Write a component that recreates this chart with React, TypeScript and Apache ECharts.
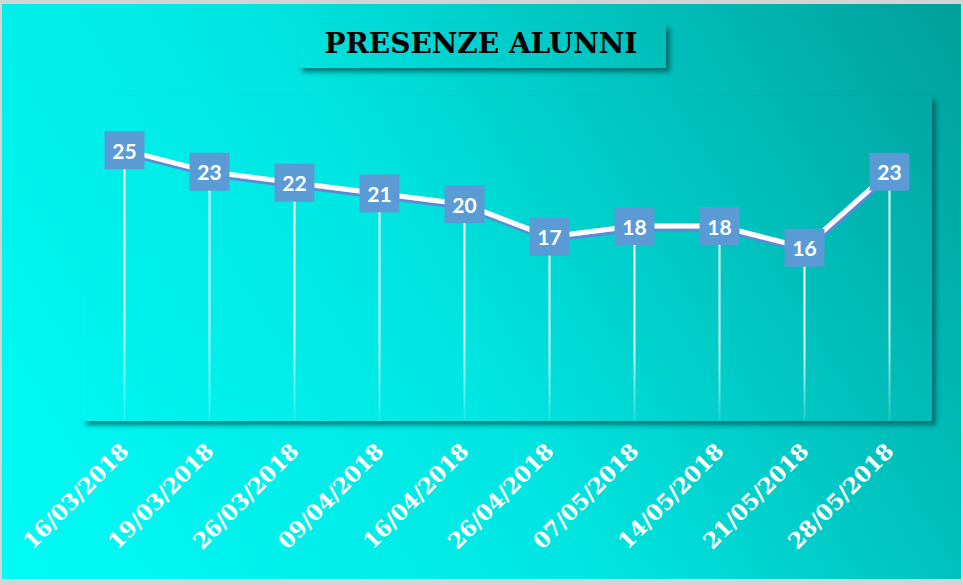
import React, { useEffect, useRef } from "react";
import * as echarts from "echarts";

const categories = [
  "16/03/2018", "19/03/2018", "26/03/2018", "09/04/2018", "16/04/2018",
  "26/04/2018", "07/05/2018", "14/05/2018", "21/05/2018", "28/05/2018",
];
const presenze = [25, 23, 22, 21, 20, 17, 18, 18, 16, 23];
const titleText = "PRESENZE ALUNNI";

const bgGradient = () => ({
  type: "linear",
  x: 0, y: 585, x2: 963, y2: 0,
  global: true,
  colorStops: [
    { offset: 0, color: "#00fcf7" },
    { offset: 0.45, color: "#00e6e2" },
    { offset: 1, color: "#009e9a" },
  ],
});

export default function App() {
  const ref = useRef<HTMLDivElement>(null);
  useEffect(() => {
    document.body.style.margin = "0";
    const chart = echarts.init(ref.current!, null, { renderer: "svg" });
    chart.setOption({
      animation: false,
      backgroundColor: "#d4d4d4",
      graphic: [
        {
          type: "rect",
          z: -10,
          shape: { x: 2, y: 4, width: 959, height: 575 },
          style: { fill: bgGradient() },
          silent: true,
        },
        {
          type: "rect",
          z: 10,
          shape: { x: 298, y: 24, width: 368, height: 44 },
          style: {
            fill: bgGradient(),
            shadowBlur: 5,
            shadowOffsetX: 4,
            shadowOffsetY: 4,
            shadowColor: "rgba(0,70,70,0.65)",
          },
          silent: true,
        },
        {
          type: "text",
          z: 11,
          x: 481,
          y: 43,
          style: {
            text: titleText,
            fill: "#000",
            font: "bold 28px 'DejaVu Serif', serif",
            align: "center",
            verticalAlign: "middle",
          },
          silent: true,
        },
      ],
      grid: {
        left: 82,
        right: 31,
        top: 96,
        bottom: 164,
        show: true,
        borderWidth: 0,
        backgroundColor: bgGradient(),
        shadowBlur: 5,
        shadowOffsetX: 4,
        shadowOffsetY: 4,
        shadowColor: "rgba(0,80,80,0.7)",
      },
      xAxis: {
        type: "category",
        data: categories,
        boundaryGap: true,
        axisLine: { show: false },
        axisTick: { show: false },
        axisLabel: {
          rotate: 45,
          margin: 26,
          color: "#ffffff",
          fontWeight: "bold",
          fontFamily: "'DejaVu Serif', serif",
          fontSize: 22,
          interval: 0,
        },
      },
      yAxis: {
        type: "value",
        min: 0,
        max: 30,
        show: false,
        splitLine: { show: false },
      },
      series: [
        {
          type: "bar",
          data: presenze,
          barWidth: 2,
          silent: true,
          z: 1,
          itemStyle: {
            color: {
              type: "linear",
              x: 0, y: 0, x2: 0, y2: 1,
              colorStops: [
                { offset: 0, color: "rgba(255,255,255,1)" },
                { offset: 0.6, color: "rgba(255,255,255,0.85)" },
                { offset: 1, color: "rgba(255,255,255,0.1)" },
              ],
            },
          },
        },
        {
          type: "line",
          data: presenze,
          z: 3,
          symbol: "rect",
          symbolSize: [40, 38],
          lineStyle: {
            color: "#ffffff",
            width: 5,
            shadowColor: "#5a8ad6",
            shadowOffsetY: 3,
            shadowOffsetX: 1,
            shadowBlur: 0,
          },
          itemStyle: { color: "#5b9bd5" },
          label: {
            show: true,
            position: "inside",
            color: "#ffffff",
            fontWeight: "bold",
            fontFamily: "Lato, 'Open Sans', sans-serif",
            fontSize: 21,
          },
        },
      ],
    });
    return () => chart.dispose();
  }, []);
  return <div ref={ref} style={{ width: 963, height: 585 }} />;
}
